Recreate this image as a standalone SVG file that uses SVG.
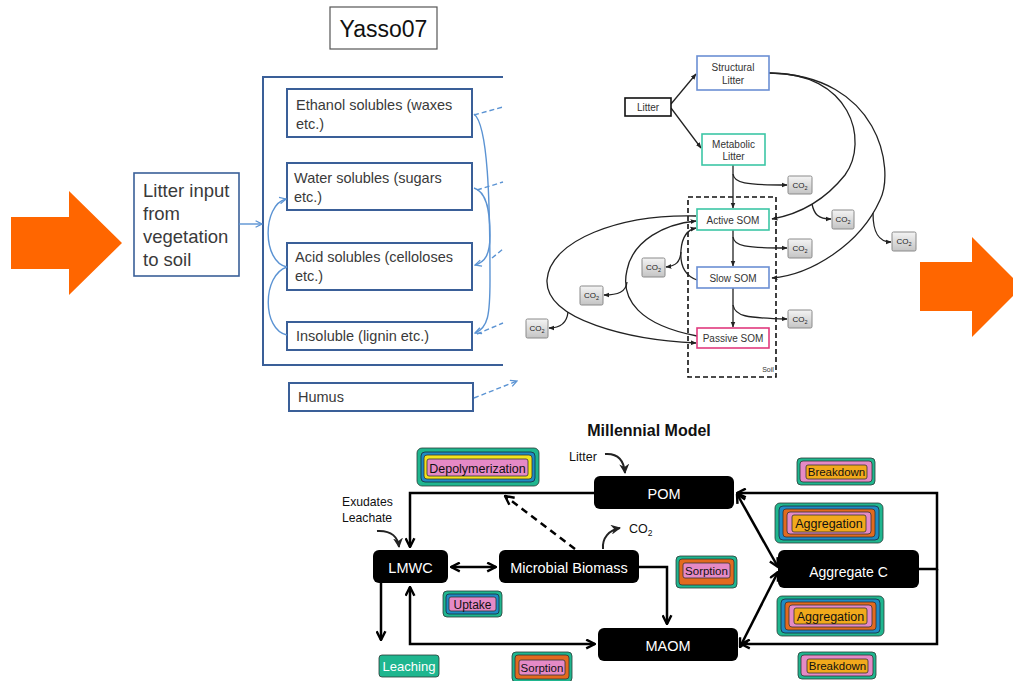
<svg xmlns="http://www.w3.org/2000/svg" width="1013" height="681" viewBox="0 0 1013 681">
<style>
.bg{fill:#ffffff}
.orange{fill:#ff6600}
.ybox{fill:#ffffff;stroke:#3a5f98;stroke-width:2}
.ytxt{font-family:"Liberation Sans",Arial,sans-serif;font-size:14.5px;fill:#3a3a3a}
.ycon{fill:none;stroke:#5b93d3;stroke-width:1.4}
.ydash{fill:none;stroke:#5b93d3;stroke-width:1.4;stroke-dasharray:5 3}
.cbox{fill:#ffffff;stroke-width:1.6}
.ctxt{font-family:"Liberation Sans",Arial,sans-serif;font-size:10px;fill:#333;text-anchor:middle}
.ccon{fill:none;stroke:#222;stroke-width:1.3}
.co2{fill:url(#g);stroke:#8a8a8a;stroke-width:1}
.co2t{font-family:"Liberation Sans",Arial,sans-serif;font-size:8px;fill:#222;text-anchor:middle}
.mbox{fill:#000000}
.mtxt{font-family:"Liberation Sans",Arial,sans-serif;font-size:14.5px;fill:#ffffff;text-anchor:middle}
.mcon{fill:none;stroke:#000;stroke-width:2.5}
.lt{font-family:"Liberation Sans",Arial,sans-serif;fill:#111;text-anchor:middle}
.teal{fill:#1fb68f;stroke:#2a3a35;stroke-width:0.8}
.blue{fill:#1f8bc4;stroke:#1a2a3a;stroke-width:0.8}
.yel{fill:#f2e21c;stroke:#333;stroke-width:0.8}
.pink{fill:#e58ac6;stroke:#333;stroke-width:0.8}
.org{fill:#e26a1f;stroke:#333;stroke-width:0.8}
.amb{fill:#f2a91c;stroke:#333;stroke-width:0.8}
</style>
<defs>
<linearGradient id="g" x1="0" y1="0" x2="0" y2="1">
<stop offset="0" stop-color="#f4f4f4"/>
<stop offset="1" stop-color="#c4c4c4"/>
</linearGradient>
<marker id="ya" viewBox="0 0 10 10" refX="9" refY="5" markerWidth="8" markerHeight="8" markerUnits="userSpaceOnUse" orient="auto-start-reverse">
<path d="M1,1 L9,5 L1,9" fill="none" stroke="#5b93d3" stroke-width="1.6"/>
</marker>
<marker id="ca" viewBox="0 0 10 10" refX="9" refY="5" markerWidth="6" markerHeight="6" markerUnits="userSpaceOnUse" orient="auto-start-reverse">
<path d="M0,1 L10,5 L0,9 Z" fill="#222"/>
</marker>
<marker id="ma" viewBox="0 0 10 10" refX="9" refY="5" markerWidth="11" markerHeight="11" markerUnits="userSpaceOnUse" orient="auto-start-reverse">
<path d="M1,1 L9,5 L1,9" fill="none" stroke="#000" stroke-width="2.2"/>
</marker>
<marker id="mf" viewBox="0 0 10 10" refX="9" refY="5" markerWidth="10" markerHeight="10" markerUnits="userSpaceOnUse" orient="auto">
<path d="M0,0 L10,5 L0,10 L3,5 Z" fill="#222"/>
</marker>
</defs>
<rect class="bg" x="0" y="0" width="1013" height="681"/>

<!-- Orange arrows -->
<g id="arrow-left"><polygon class="orange" points="11,217 69,217 69,191 122,243 69,295 69,269 11,269"/></g>
<g id="arrow-right"><polygon class="orange" points="920,262 972,262 972,237 1022,287 972,337 972,311 920,311"/></g>

<!-- ===== Yasso07 ===== -->
<g id="yasso-title"><rect x="330" y="7" width="107" height="42" fill="#fff" stroke="#555" stroke-width="1.2"/><text x="383.5" y="37" font-family="Liberation Sans, Arial, sans-serif" font-size="23" fill="#111" text-anchor="middle">Yasso07</text></g>
<g id="yasso-frame"><path d="M503,77 L263,77 L263,365 L503,365" fill="none" stroke="#3a5f98" stroke-width="2"/></g>
<g id="litter-input"><rect x="134" y="173" width="105" height="103" fill="#fff" stroke="#3a5f98" stroke-width="1.6"/>
<text class="ytxt" style="font-size:18.5px" x="143" y="197">Litter input</text>
<text class="ytxt" style="font-size:18.5px" x="143" y="220">from</text>
<text class="ytxt" style="font-size:18.5px" x="143" y="243">vegetation</text>
<text class="ytxt" style="font-size:18.5px" x="143" y="266">to soil</text></g>
<g id="ethanol"><rect class="ybox" x="287" y="89" width="185" height="48"/><text class="ytxt" x="296" y="110">Ethanol solubles (waxes</text><text class="ytxt" x="296" y="129">etc.)</text></g>
<g id="water"><rect class="ybox" x="287" y="163" width="185" height="47"/><text class="ytxt" x="294" y="183">Water solubles (sugars</text><text class="ytxt" x="294" y="202">etc.)</text></g>
<g id="acid"><rect class="ybox" x="287" y="243" width="185" height="47"/><text class="ytxt" x="295" y="262">Acid solubles (celloloses</text><text class="ytxt" x="295" y="281">etc.)</text></g>
<g id="insoluble"><rect class="ybox" x="287" y="322" width="185" height="28"/><text class="ytxt" x="296" y="341">Insoluble (lignin etc.)</text></g>
<g id="humus"><rect class="ybox" x="289" y="383" width="184" height="28"/><text class="ytxt" x="298" y="402">Humus</text></g>

<g id="yasso-connectors">
<path class="ycon" d="M239,224 L262,224" marker-end="url(#ya)"/>
<path class="ycon" d="M287,267 C 262,262 262,205 286,199" marker-end="url(#ya)"/>
<path class="ycon" d="M287,267 C 262,275 262,330 287,335"/>
<path class="ycon" d="M474,114 C 488,125 490,200 490,280 C 490,315 488,328 475,333" marker-end="url(#ya)"/>
<path class="ycon" d="M474,188 C 488,192 490,215 490,235 C 490,255 485,262 475,265" marker-end="url(#ya)"/>
<path class="ydash" d="M474,115 L503,107"/>
<path class="ydash" d="M477,190 L503,182"/>
<path class="ydash" d="M492,258 L503,249"/>
<path class="ydash" d="M477,334 L503,323"/>
<path class="ydash" d="M474,398 L517,381" marker-end="url(#ya)"/>
</g>

<!-- ===== Century ===== -->
<g id="soil-frame"><rect x="688" y="197" width="88" height="180" fill="none" stroke="#111" stroke-width="1.6" stroke-dasharray="5 3"/><text x="768" y="372" font-family="Liberation Sans, Arial, sans-serif" font-size="7" fill="#333" text-anchor="middle">Soil</text></g>

<g id="century-connectors">
<path class="ccon" d="M671,104 L696,74" marker-end="url(#ca)"/>
<path class="ccon" d="M671,108 L701,148" marker-end="url(#ca)"/>
<path class="ccon" d="M733,165 L733,208" marker-end="url(#ca)"/>
<path class="ccon" d="M733,174 C 734,183 745,185 787,185" marker-end="url(#ca)"/>
<path class="ccon" d="M733,230 L733,266" marker-end="url(#ca)"/>
<path class="ccon" d="M733,237 C 734,246 745,248 787,248" marker-end="url(#ca)"/>
<path class="ccon" d="M733,288 L733,327" marker-end="url(#ca)"/>
<path class="ccon" d="M733,305 C 735,316 745,318 787,319" marker-end="url(#ca)"/>
<path class="ccon" d="M769,73 C 850,72 870,140 845,175 C 825,200 800,214 772,219" marker-end="url(#ca)"/>
<path class="ccon" d="M812,204 C 814,214 818,219 831,219" marker-end="url(#ca)"/>
<path class="ccon" d="M769,73 C 880,75 895,170 880,200 C 860,245 810,275 772,278" marker-end="url(#ca)"/>
<path class="ccon" d="M873,213 C 873,232 878,242 891,242" marker-end="url(#ca)"/>
<path class="ccon" d="M697,280 C 683,275 680,262 681,250 C 682,238 686,230 696,228" marker-end="url(#ca)"/>
<path class="ccon" d="M681,252 C 680,262 676,266 666,267" marker-end="url(#ca)"/>
<path class="ccon" d="M697,336 C 640,325 620,300 627,270 C 633,240 665,224 696,221" marker-end="url(#ca)"/>
<path class="ccon" d="M627,282 C 626,292 618,295 604,295" marker-end="url(#ca)"/>
<path class="ccon" d="M696,216 C 620,214 550,240 547,280 C 545,320 630,340 696,343" marker-end="url(#ca)"/>
<path class="ccon" d="M568,312 C 567,322 562,328 549,328" marker-end="url(#ca)"/>
</g>

<g id="c-litter"><rect class="cbox" x="625" y="98" width="46" height="18" stroke="#111" stroke-width="2"/><text class="ctxt" x="648" y="111">Litter</text></g>
<g id="c-structural"><rect class="cbox" x="697" y="56" width="72" height="34" stroke="#6b8fd4"/><text class="ctxt" x="733" y="71">Structural</text><text class="ctxt" x="733" y="84">Litter</text></g>
<g id="c-metabolic"><rect class="cbox" x="702" y="134" width="63" height="31" stroke="#3cc6a6"/><text class="ctxt" x="733.5" y="148">Metabolic</text><text class="ctxt" x="733.5" y="160">Litter</text></g>
<g id="c-active"><rect class="cbox" x="697" y="209" width="72" height="21" stroke="#3cc6a6"/><text class="ctxt" x="733" y="224">Active SOM</text></g>
<g id="c-slow"><rect class="cbox" x="697" y="267" width="72" height="21" stroke="#6b8fd4"/><text class="ctxt" x="733" y="282">Slow SOM</text></g>
<g id="c-passive"><rect class="cbox" x="697" y="328" width="72" height="20" stroke="#e03a7e"/><text class="ctxt" x="733" y="342">Passive SOM</text></g>

<g id="co2-1"><rect class="co2" x="788" y="176" width="24" height="18" rx="1.5"/><text class="co2t" x="800" y="188">CO<tspan font-size="5.5" dy="2">2</tspan></text></g>
<g id="co2-2"><rect class="co2" x="788" y="239" width="24" height="19" rx="1.5"/><text class="co2t" x="800" y="251">CO<tspan font-size="5.5" dy="2">2</tspan></text></g>
<g id="co2-3"><rect class="co2" x="788" y="310" width="24" height="18" rx="1.5"/><text class="co2t" x="800" y="322">CO<tspan font-size="5.5" dy="2">2</tspan></text></g>
<g id="co2-4"><rect class="co2" x="832" y="210" width="22" height="19" rx="1.5"/><text class="co2t" x="843" y="222">CO<tspan font-size="5.5" dy="2">2</tspan></text></g>
<g id="co2-5"><rect class="co2" x="892" y="232" width="24" height="19" rx="1.5"/><text class="co2t" x="904" y="244">CO<tspan font-size="5.5" dy="2">2</tspan></text></g>
<g id="co2-6"><rect class="co2" x="642" y="258" width="23" height="19" rx="1.5"/><text class="co2t" x="653.5" y="270">CO<tspan font-size="5.5" dy="2">2</tspan></text></g>
<g id="co2-7"><rect class="co2" x="580" y="286" width="23" height="19" rx="1.5"/><text class="co2t" x="591.5" y="298">CO<tspan font-size="5.5" dy="2">2</tspan></text></g>
<g id="co2-8"><rect class="co2" x="526" y="319" width="22" height="19" rx="1.5"/><text class="co2t" x="537" y="331">CO<tspan font-size="5.5" dy="2">2</tspan></text></g>

<!-- ===== Millennial ===== -->
<g id="m-title"><text x="649" y="436" font-family="Liberation Sans, Arial, sans-serif" font-size="16" font-weight="bold" fill="#111" text-anchor="middle">Millennial Model</text></g>

<g id="millennial-connectors">
<path class="mcon" d="M594,493 L410,493 L410,547" marker-end="url(#ma)"/>
<path class="mcon" d="M451,567 L496,567" marker-start="url(#ma)" marker-end="url(#ma)"/>
<path class="mcon" d="M575,549 L505,496" stroke-dasharray="7 5" marker-end="url(#ma)"/>
<path class="mcon" d="M639,567 L667,567 L667,624" marker-end="url(#ma)"/>
<path class="mcon" d="M381,583 L381,640" marker-end="url(#ma)"/>
<path class="mcon" d="M410,587 L410,644 L595,644" marker-start="url(#ma)" marker-end="url(#ma)"/>
<path class="mcon" d="M737,494 L778,567" marker-start="url(#ma)" marker-end="url(#ma)"/>
<path class="mcon" d="M740,647 L778,572" marker-start="url(#ma)" marker-end="url(#ma)"/>
<path class="mcon" d="M919,569 L937,569 L937,493 L737,493" marker-end="url(#ma)"/>
<path class="mcon" d="M937,569 L937,644 L741,644" marker-end="url(#ma)"/>
<path d="M377,531 C 392,530 398,538 399,547" fill="none" stroke="#222" stroke-width="2" marker-end="url(#mf)"/>
<path d="M605,454 C 618,453 624,461 625,473" fill="none" stroke="#222" stroke-width="2" marker-end="url(#mf)"/>
<path d="M603,549 C 602,538 609,530 620,528" fill="none" stroke="#222" stroke-width="2" marker-end="url(#mf)"/>
</g>

<g id="m-labels">
<text class="lt" x="342" y="506" font-size="12.2" style="text-anchor:start">Exudates</text>
<text class="lt" x="342" y="522" font-size="12.2" style="text-anchor:start">Leachate</text>
<text class="lt" x="569" y="461" font-size="12.5" style="text-anchor:start">Litter</text>
<text class="lt" x="629" y="533" font-size="12.5" style="text-anchor:start">CO<tspan font-size="8.5" dy="3">2</tspan></text>
</g>

<g id="m-pom"><rect class="mbox" x="594" y="476" width="140" height="33" rx="6"/><text class="mtxt" x="664" y="499">POM</text></g>
<g id="m-lmwc"><rect class="mbox" x="373" y="550" width="75" height="33" rx="6"/><text class="mtxt" x="410.5" y="573">LMWC</text></g>
<g id="m-microbial"><rect class="mbox" x="499" y="550" width="140" height="33" rx="6"/><text class="mtxt" x="569" y="573">Microbial Biomass</text></g>
<g id="m-maom"><rect class="mbox" x="598" y="628" width="140" height="33" rx="6"/><text class="mtxt" x="668" y="651">MAOM</text></g>
<g id="m-aggregate"><rect class="mbox" x="778" y="550" width="141" height="38" rx="6"/><text class="mtxt" x="848.5" y="577" style="font-size:14px">Aggregate C</text></g>

<g id="l-depolymerization">
<rect class="teal" x="417" y="448" width="122" height="38" rx="5"/>
<rect class="blue" x="421" y="452" width="114" height="30" rx="4"/>
<rect class="yel" x="424" y="455" width="108" height="24" rx="3"/>
<rect class="pink" x="427" y="459" width="101" height="17" rx="2"/>
<text class="lt" x="477.5" y="472.5" font-size="12.5">Depolymerization</text>
</g>
<g id="l-uptake">
<rect class="teal" x="443" y="591" width="59" height="26" rx="4"/>
<rect class="blue" x="446" y="594" width="53" height="20" rx="3"/>
<rect class="pink" x="449" y="597" width="47" height="14" rx="2"/>
<text class="lt" x="472.5" y="608.5" font-size="12">Uptake</text>
</g>
<g id="l-leaching">
<rect class="teal" x="379" y="655" width="60" height="22" rx="3"/>
<text class="lt" x="409" y="670.5" font-size="13" fill="#fff" style="fill:#fff">Leaching</text>
</g>
<g id="l-sorption-bottom">
<rect class="teal" x="512" y="652" width="60" height="30" rx="4"/>
<rect class="org" x="515" y="655" width="54" height="24" rx="3"/>
<rect class="pink" x="519" y="660" width="46" height="15" rx="2"/>
<text class="lt" x="542" y="671.5" font-size="11.5">Sorption</text>
</g>
<g id="l-sorption-right">
<rect class="teal" x="676" y="556" width="61" height="32" rx="4"/>
<rect class="org" x="679" y="559" width="55" height="26" rx="3"/>
<rect class="pink" x="683" y="563" width="47" height="15" rx="2"/>
<text class="lt" x="706.5" y="574.5" font-size="11.5">Sorption</text>
</g>
<g id="l-breakdown-top">
<rect class="teal" x="797" y="458" width="78" height="27" rx="4"/>
<rect class="pink" x="800" y="461" width="72" height="21" rx="3"/>
<rect class="amb" x="806" y="465" width="61" height="14" rx="2"/>
<text class="lt" x="836.5" y="476" font-size="11.5">Breakdown</text>
</g>
<g id="l-breakdown-bottom">
<rect class="teal" x="798" y="652" width="78" height="27" rx="4"/>
<rect class="pink" x="801" y="655" width="72" height="21" rx="3"/>
<rect class="amb" x="807" y="659" width="61" height="14" rx="2"/>
<text class="lt" x="837.5" y="670" font-size="11.5">Breakdown</text>
</g>
<g id="l-aggregation-top">
<rect class="teal" x="775" y="503" width="108" height="40" rx="5"/>
<rect class="blue" x="779" y="506" width="100" height="34" rx="4"/>
<rect class="org" x="783" y="509" width="92" height="28" rx="3"/>
<rect class="pink" x="787" y="512" width="84" height="22" rx="3"/>
<rect class="amb" x="792" y="515" width="74" height="17" rx="2"/>
<text class="lt" x="829" y="528" font-size="12.5">Aggregation</text>
</g>
<g id="l-aggregation-bottom">
<rect class="teal" x="777" y="596" width="107" height="40" rx="5"/>
<rect class="blue" x="781" y="599" width="99" height="34" rx="4"/>
<rect class="org" x="785" y="602" width="91" height="28" rx="3"/>
<rect class="pink" x="789" y="605" width="83" height="22" rx="3"/>
<rect class="amb" x="794" y="608" width="73" height="16" rx="2"/>
<text class="lt" x="830.5" y="620.5" font-size="12.5">Aggregation</text>
</g>
</svg>
